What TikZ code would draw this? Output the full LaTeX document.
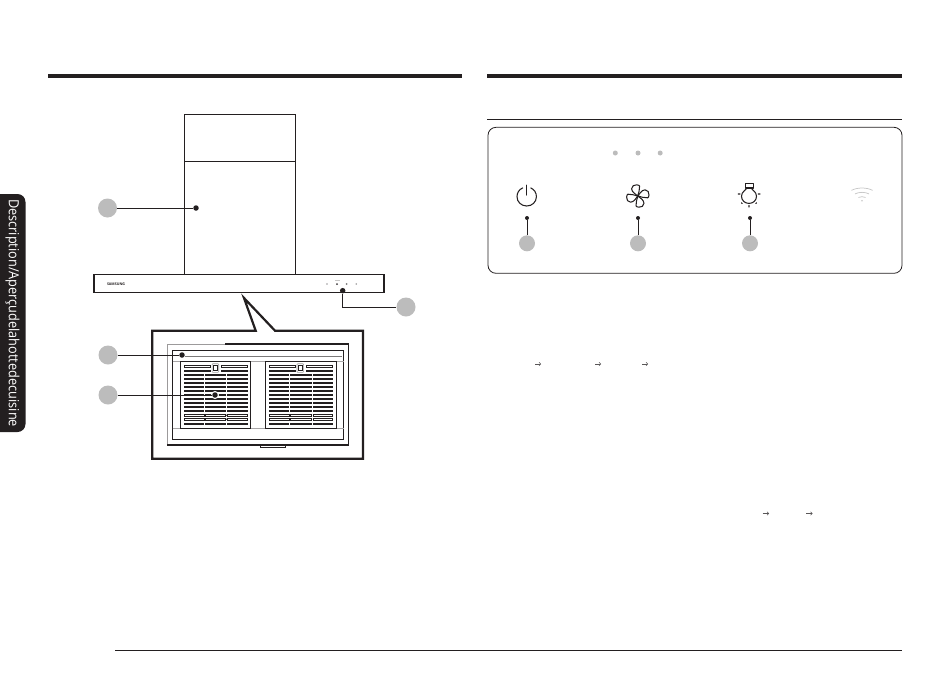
\documentclass[tikz,border=0pt]{standalone}
\usepackage{fontspec}
\usepackage{graphicx}
\setmainfont{Open Sans}
\definecolor{ink}{HTML}{231F20}
\definecolor{bub}{HTML}{BCBCBC}
\definecolor{wgrey}{HTML}{C8C8C8}
\usetikzlibrary{arrows.meta}
\tikzset{
  bubble/.style={circle,fill=bub,draw=none,inner sep=0pt,minimum size=#1},
  bubble/.default=19pt,
  pin/.style={circle,fill=ink,draw=none,inner sep=0pt,minimum size=#1},
  pin/.default=5.5pt,
  leader/.style={draw=ink,line width=1pt},
  topbar/.style={fill=ink,draw=none},
  hoodline/.style={draw=ink,line width=1pt},
  thick frame/.style={draw=ink,line width=2.2pt,line join=miter},
  slat/.style={draw=none,fill=ink},
  openslat/.style={draw=ink,line width=0.6pt,fill=white},
  icon/.style={draw=ink,line width=1.05pt,line cap=round,line join=round},
  tinyarrow/.style={draw=ink!75,line width=0.55pt,-{Straight Barb[length=1.5pt,width=3.4pt]}},
}
\begin{document}
\begin{tikzpicture}[x=1pt,y=-1pt]
\useasboundingbox (0,0) rectangle (950,673);
% section bars
\fill[topbar] (48,74) rectangle (462,78);
\fill[topbar] (487,74) rectangle (902,78);
\draw[ink,line width=0.8pt] (487,119.5) -- (902,119.5);
\draw[ink,line width=0.8pt] (115,650.5) -- (902,650.5);
% side tab
\fill[ink,rounded corners=8pt] (-12,194) rectangle (25.5,432);
\node[rotate=-90,text=white,inner sep=0pt] (tab) at (12.5,313) {\resizebox{228pt}{\height}{\fontsize{14}{15}\selectfont Description/Aperçudelahottedecuisine}};
% chimney
\draw[hoodline] (184,275) -- (184,114.5) -- (295,114.5) -- (295,275);
\draw[hoodline] (184,161) -- (295,161);
% hood bar
\draw[hoodline,line width=1.2pt] (94,274.7) rectangle (384,292.7);
\node[inner sep=0pt,text=ink] (brand) at (116,284.3) {\resizebox{18pt}{2.6pt}{\bfseries SAMSUNG}};
\fill[ink!45] (327,284) circle (0.8);
\fill[ink!90] (337,284) circle (1);
\fill[ink!60] (346.7,284) circle (1);
\fill[ink!45] (356.3,284) circle (0.9);
\fill[ink!25] (334.5,280.3) rectangle (339.5,280.8);
% callout
\draw[thick frame] (255.7,330.7) -- (244,298) -- (275,330.7) -- (363,330.7) -- (363,458.7) -- (152.3,458.7) -- (152.3,330.7) -- cycle;
% outer inner frame
\draw[ink!45,line width=0.9pt] (225,344) -- (167.3,344) -- (167.3,445);
\draw[ink,line width=1.1pt] (225,344) -- (348.7,344) -- (348.7,445) -- (167.3,445);
\draw[ink,line width=0.9pt] (172.7,350.3) rectangle (343.7,439.7);
\draw[ink!40,line width=0.6pt] (172.7,361.3) -- (343.7,361.3);
\draw[ink!60,line width=0.7pt] (185,356.7) -- (342,356.7);
\draw[ink!40,line width=0.8pt] (172.7,428.3) -- (343.7,428.3);
\draw[ink,line width=0.8pt] (260.3,445) rectangle (285.7,447.6);
% filter panels
\draw[ink,line width=1pt,fill=white] (180.3,361.3) rectangle (250.3,428.3);
\draw[ink,line width=1pt,fill=white] (265.3,361.3) rectangle (336.7,428.3);
\foreach \ax/\bx/\cx/\dx/\ex/\fx/\lx/\nx/\ox/\kx in {
  184.3/204/205/225.7/227/247.7/210.7/221.3/247.7/215.4,
  269.3/289/290/311.7/313/332.7/295.7/306.3/332.7/300.3}{
  % top open slats and lock
  \draw[openslat] (\ax,365.5) rectangle (\lx,367.7);
  \draw[openslat] (\nx,365.5) rectangle (\ox,367.7);
  \draw[ink!45,line width=0.6pt,rounded corners=0.8pt] (\kx-3.3,363.7) rectangle (\kx+3.3,372.4);
  \draw[ink,line width=1.2pt,fill=white] (\kx-2.1,365.4) rectangle (\kx+2.1,370.2);
  % solid slats
  \fill[slat] (\ax,369.9) rectangle (\lx,371.9);
  \fill[slat] (\nx,369.9) rectangle (\ox,371.9);
  \foreach \yy in {373.8,377.8,381.8,385.8,389.8,393.8,397.8,401.8,405.8,409.8}{
    \fill[slat] (\ax,\yy) rectangle (\bx,\yy+2);
    \fill[slat] (\cx,\yy) rectangle (\dx,\yy+2);
    \fill[slat] (\ex,\yy) rectangle (\fx,\yy+2);
  }
  \foreach \yy in {414.2,418.2}{
    \draw[openslat] (\ax,\yy) rectangle (\bx,\yy+2);
    \draw[openslat] (\cx,\yy) rectangle (\dx,\yy+2);
    \draw[openslat] (\ex,\yy) rectangle (\fx,\yy+2);
  }
  \fill[slat] (\ax,422.6) rectangle (\bx,424.6);
  \fill[slat] (\cx,422.6) rectangle (\dx,424.6);
  \fill[slat] (\ex,422.6) rectangle (\fx,424.6);
}
\fill[ink] (227,415.2) circle (0.8) (227,419.2) circle (0.8);
% left bubbles
\node[bubble] (b1) at (107.5,208) {};
\node[pin] (p1) at (196,208) {};
\draw[leader] (b1) -- (p1);
\node[bubble] (b2) at (108,355) {};
\node[pin] (p2) at (182,355) {};
\draw[leader] (b2) -- (p2);
\node[circle,fill=white,minimum size=8pt,inner sep=0pt] at (215,395) {};
\node[bubble] (b3) at (108,395) {};
\node[pin] (p3) at (215,395) {};
\draw[leader] (b3) -- (p3);
\node[bubble] (b4) at (406,307) {};
\node[pin] (p4) at (342.7,290.7) {};
\draw[leader] (p4) |- (b4);
% control panel
\draw[ink,line width=0.8pt,rounded corners=8pt] (488,127.3) rectangle (902,273.3);
\foreach \dx/\nm in {615.3/d1,638/d2,660.2/d3}{
  \node[circle,fill=bub,inner sep=0pt,minimum size=5pt] (\nm) at (\dx,153) {};
}
% power icon
\draw[icon] (522.7,187.9) .. controls (519.0,189.5) and (517,192.8) .. (517,196.7)
  .. controls (517,202) and (521.3,206) .. (526.7,206)
  .. controls (532.1,206) and (536.4,202) .. (536.4,196.7)
  .. controls (536.4,192.8) and (534.4,189.5) .. (530.7,187.9);
\draw[icon] (526.7,185.2) -- (526.7,195);
% fan icon
\foreach \r in {0,90,180,270}{
  \begin{scope}[shift={(637.8,196)},rotate=\r]
    \draw[icon] (0,0) .. controls (-1.5,-1.5) and (-6,-3.5) .. (-6.2,-7.2)
      .. controls (-6.3,-10) and (-3.5,-11.4) .. (-1,-11.2)
      .. controls (0.5,-11) and (1.5,-10.5) .. (1.8,-10)
      .. controls (1.8,-6.5) and (1,-3) .. (0,0);
  \end{scope}
}
% bulb icon
\draw[icon] (746.7,188) .. controls (746.3,190) and (741.5,191.5) .. (741.5,196.2)
  .. controls (741.5,200.4) and (744.8,203.4) .. (749,203.4)
  .. controls (753.2,203.4) and (756.5,200.4) .. (756.5,196.2)
  .. controls (756.5,191.5) and (751.7,190) .. (751.3,188);
\draw[icon] (745.7,183.5) rectangle (753.3,188);
\draw[icon] (738.2,194) -- (740,194) (758.2,194) -- (760,194) (749,205.3) -- (749,207) (741.4,202.8) -- (742.2,203.6) (756.6,202.8) -- (755.8,203.6);
% wifi icon
\foreach \q in {5,10,15}{
  \pgfmathsetmacro{\dq}{\q*0.707}
  \draw[wgrey,line width=0.75pt] (862-\dq,201-\dq) .. controls (862-\dq*0.45,201-\dq*1.3) and (862+\dq*0.45,201-\dq*1.3) .. (862+\dq,201-\dq);
}
\fill[wgrey] (862,200.8) circle (0.9);
% panel pins
\foreach \ix/\px/\qx in {1/527/527,2/638/638,3/750/750}{
  \node[bubble=16pt] (c\ix) at (\px,243.3) {};
  \node[pin=4pt] (e\ix) at (\qx,218) {};
  \draw[leader] (e\ix) -- (c\ix);
}
% small arrows
\foreach \ax in {535,595,642}{ \draw[tinyarrow] (\ax,364) -- (\ax+6,364); }
\foreach \ax in {762.5,806}{ \draw[tinyarrow] (\ax,513.5) -- (\ax+6.5,513.5); }
\end{tikzpicture}
\end{document}
